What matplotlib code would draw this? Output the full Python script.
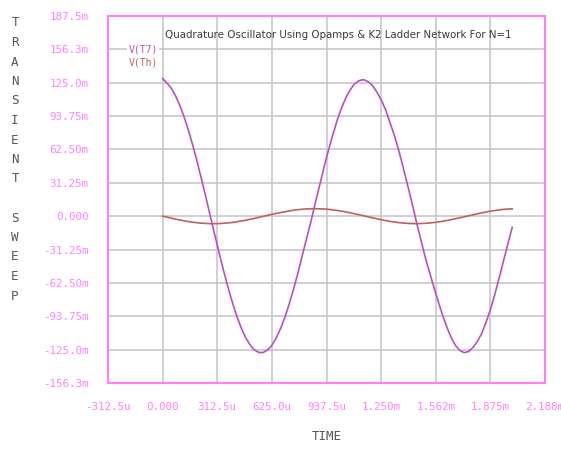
import numpy as np
import matplotlib
matplotlib.use('Agg')
import matplotlib.pyplot as plt

# time in microseconds, voltages in millivolts
time_us = [0, 25, 50, 75, 100, 125, 150, 175, 200, 225, 250, 275, 300, 325, 350, 375,
           400, 425, 450, 475, 500, 525, 550, 575, 600, 625, 650, 675, 700, 725, 750,
           775, 800, 825, 850, 875, 900, 925, 950, 975, 1000, 1025, 1050, 1075, 1100,
           1125, 1150, 1175, 1200, 1225, 1250, 1275, 1300, 1325, 1350, 1375, 1400,
           1425, 1450, 1475, 1500, 1525, 1550, 1575, 1600, 1625, 1650, 1675, 1700,
           1725, 1750, 1775, 1800, 1825, 1850, 1875, 1900, 1925, 1950, 1975, 2000]

v_t7 = [129.0, 124.7, 119.7, 112.4, 103.2, 92.0, 79.1, 64.8, 49.4, 32.9, 15.9, -1.4,
        -18.7, -35.6, -51.9, -67.2, -81.3, -93.9, -104.9, -113.7, -120.6, -125.3,
        -127.7, -127.7, -125.4, -120.9, -114.0, -105.2, -94.4, -81.8, -67.8, -52.5,
        -36.1, -20.0, -4.0, 13.5, 30.0, 47.0, 62.5, 77.0, 90.5, 102.0, 111.5, 118.8,
        124.3, 127.0, 127.9, 126.0, 122.5, 116.5, 109.0, 100.0, 88.0, 76.0, 62.0,
        46.5, 30.0, 13.5, -4.0, -20.7, -37.0, -51.5, -65.5, -79.0, -92.0, -103.5,
        -113.5, -121.0, -125.8, -127.8, -126.8, -123.0, -117.5, -110.0, -99.5,
        -87.5, -73.5, -58.0, -42.0, -26.0, -10.5]

v_th = [0.0, -0.9, -1.9, -2.8, -3.6, -4.4, -5.1, -5.7, -6.2, -6.6, -6.8, -7.0, -7.0,
        -6.9, -6.6, -6.3, -5.8, -5.2, -4.5, -3.8, -2.9, -2.1, -1.1, -0.2, 0.8, 1.7,
        2.6, 3.4, 4.2, 4.9, 5.6, 6.1, 6.5, 6.8, 7.0, 7.0, 6.9, 6.7, 6.4, 5.9, 5.3,
        4.7, 3.9, 3.1, 2.2, 1.3, 0.4, -0.6, -1.5, -2.4, -3.3, -4.1, -4.8, -5.4, -6.0,
        -6.4, -6.7, -6.9, -7.0, -6.9, -6.7, -6.4, -6.0, -5.4, -4.8, -4.1, -3.3, -2.4,
        -1.5, -0.6, 0.4, 1.3, 2.2, 3.1, 3.9, 4.7, 5.3, 5.9, 6.4, 6.7, 6.9]

x_ticks = [-312.5, 0, 312.5, 625, 937.5, 1250, 1562.5, 1875, 2187.5]
x_labels = ['-312.5u', '0.000', '312.5u', '625.0u', '937.5u', '1.250m', '1.562m', '1.875m', '2.188m']
y_ticks = [-156.25, -125, -93.75, -62.5, -31.25, 0, 31.25, 62.5, 93.75, 125, 156.25, 187.5]
y_labels = ['-156.3m', '-125.0m', '-93.75m', '-62.50m', '-31.25m', '0.000', '31.25m',
            '62.50m', '93.75m', '125.0m', '156.3m', '187.5m']

title = 'Quadrature Oscillator Using Opamps & K2 Ladder Network For N=1'

pink = '#ff80ff'
purple = '#b94fc4'
red = '#c0605a'

fig = plt.figure(figsize=(5.61, 4.49), dpi=100)
ax = fig.add_axes([108 / 561, 1 - 383 / 449, 437 / 561, 367 / 449])

ax.plot(time_us, v_t7, color=purple, lw=1.2)
ax.plot(time_us, v_th, color=red, lw=1.2)

ax.set_xlim(-312.5, 2187.5)
ax.set_ylim(-156.25, 187.5)
ax.set_xticks(x_ticks)
ax.set_xticklabels(x_labels)
ax.set_yticks(y_ticks)
ax.set_yticklabels(y_labels)
ax.tick_params(length=0, pad=14, labelsize=7.8, labelcolor=pink)
for lab in ax.get_xticklabels() + ax.get_yticklabels():
    lab.set_family('DejaVu Sans Mono')

ax.set_axisbelow(True)
ax.grid(True, color='#c8c8c8', lw=1.2)
for sp in ax.spines.values():
    sp.set_color(pink)
    sp.set_linewidth(1.5)

ax.text(15, 170, title, fontsize=7.4, color='#3a3a3a', ha='left', va='center')

ax.text(-110, 156.25, 'V(T7)', fontsize=7, color=purple, family='DejaVu Sans Mono',
        ha='center', va='center', bbox=dict(facecolor='white', edgecolor='none', pad=1))
ax.text(-110, 144, 'V(Th)', fontsize=7, color=red, family='DejaVu Sans Mono',
        ha='center', va='center')

fig.text(327 / 561, 1 - 437 / 449, 'TIME', fontsize=9, color='#555555',
         family='DejaVu Sans Mono', ha='center', va='center')

ylab = 'TRANSIENT SWEEP'
for i, ch in enumerate(ylab):
    fig.text(15 / 561, 1 - (23 + 19.5 * i) / 449, ch, fontsize=9, color='#555555',
             family='DejaVu Sans Mono', ha='center', va='center')

fig.savefig('out.png', dpi=100)
